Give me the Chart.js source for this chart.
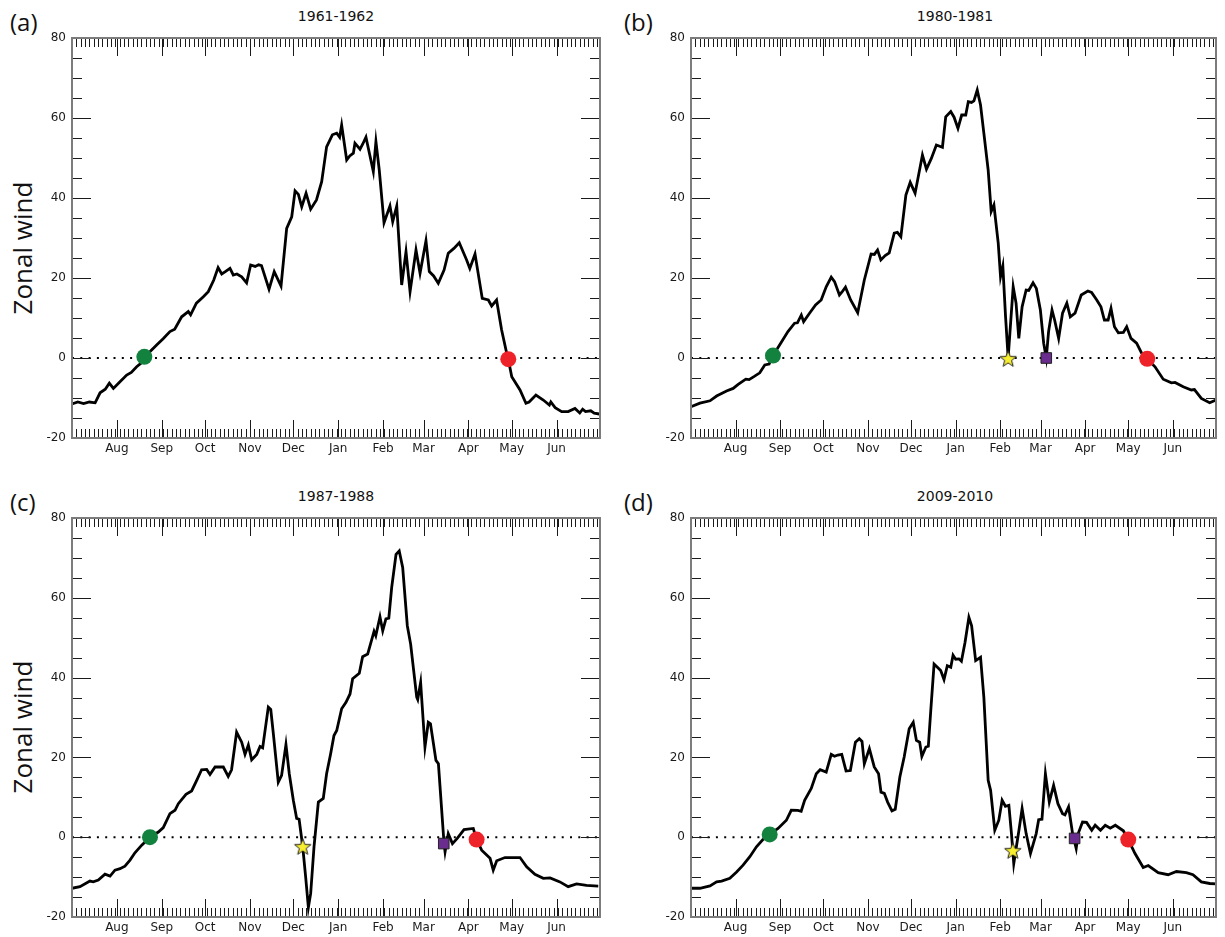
<!DOCTYPE html>
<html>
<head>
<meta charset="utf-8">
<script src="https://cdn.jsdelivr.net/npm/chart.js@4.4.0/dist/chart.umd.min.js"></script>
<style>
  body { margin: 0; background: #fff; width: 1225px; height: 937px; position: relative; overflow: hidden; }
  canvas { position: absolute; }
  .ttl { position: absolute; font: 14px "DejaVu Sans", sans-serif; color: #111; line-height: 18px; transform: translateX(-50%); white-space: nowrap; }
  .lbl { position: absolute; font: 24px "Open Sans", sans-serif; color: #111; line-height: 24px; }
  .ylab { position: absolute; font: 26px "Open Sans", sans-serif; color: #111; white-space: nowrap; transform: translate(-50%, -50%) rotate(-90deg); }
</style>
</head>
<body>
<div class="lbl" style="left:10px;top:10px">(a)</div>
<div class="lbl" style="left:624px;top:10px">(b)</div>
<div class="lbl" style="left:10px;top:490px">(c)</div>
<div class="lbl" style="left:624px;top:490px">(d)</div>
<div class="ttl" style="left:336px;top:7px">1961-1962</div>
<div class="ttl" style="left:955px;top:7px">1980-1981</div>
<div class="ttl" style="left:336px;top:487px">1987-1988</div>
<div class="ttl" style="left:955px;top:487px">2009-2010</div>
<div class="ylab" style="left:22px;top:248px">Zonal wind</div>
<div class="ylab" style="left:22px;top:727px">Zonal wind</div>

<canvas id="ca" width="612" height="470" style="left:0;top:0"></canvas>
<canvas id="cb" width="613" height="470" style="left:612px;top:0"></canvas>
<canvas id="cc" width="612" height="459" style="left:0;top:478px"></canvas>
<canvas id="cd" width="613" height="459" style="left:612px;top:478px"></canvas>

<script>
// x = days since 1 July, y = zonal wind
var monthNames = ['Aug', 'Sep', 'Oct', 'Nov', 'Dec', 'Jan', 'Feb', 'Mar', 'Apr', 'May', 'Jun'];
var monthStart = [31, 62, 92, 123, 153, 184, 215, 243, 274, 304, 335];

// 1961-1962
var daysA = [0, 4, 8, 12, 16, 19.4, 23, 25.8, 28.6, 33, 37.8, 41, 44.7, 48, 50, 54, 58.5, 63, 67.7, 71, 75.8, 80.4, 82, 86, 90.8, 94.2, 98, 101, 103.5, 106, 109.2, 111.5, 114, 117.3, 120.7, 123.5, 126.6, 129, 131, 136.2, 139.8, 144.5, 148.4, 151.9, 154.2, 156.5, 158.8, 161.8, 165, 169, 172.6, 176, 180, 183, 185, 186.4, 189.9, 192, 194.5, 195.6, 199.1, 201, 203.2, 206, 208.3, 210.1, 212.4, 215.7, 219.8, 221.7, 224.5, 227.9, 230.9, 233.7, 237.8, 240.6, 244.7, 247, 250, 253.2, 257.2, 260.1, 264, 267.7, 272.8, 275, 278.6, 283.6, 287.8, 290.1, 293.5, 297, 300.5, 301.6, 304, 309.7, 313.8, 316, 320.7, 325.8, 330, 331, 334, 338.5, 343, 347.7, 351, 353, 355, 358.6, 361, 364.5];
var windA = [-11.5, -11.0, -11.4, -11.0, -11.2, -8.7, -7.8, -6.3, -7.6, -6.0, -4.25, -3.6, -2.2, -1.2, 0.3, 1.6, 3.25, 4.8, 6.6, 7.2, 10.3, 11.6, 10.8, 13.7, 15.3, 16.6, 19.5, 22.6, 21.0, 21.6, 22.4, 20.75, 21.0, 20.3, 18.8, 23.25, 22.9, 23.3, 23.1, 17.2, 21.6, 18.0, 32.4, 35.3, 41.8, 40.9, 37.8, 41.2, 37.2, 39.5, 44.1, 52.8, 55.8, 56.2, 55.2, 58.25, 49.5, 50.5, 51.2, 53.7, 52.2, 53.5, 55.2, 50.5, 46.6, 54.1, 47.0, 33.8, 38.0, 34.1, 38.0, 18.25, 26.6, 16.6, 27.0, 21.2, 29.3, 21.6, 20.5, 18.7, 22.0, 26.2, 27.4, 28.8, 24.5, 22.4, 26.0, 14.9, 14.5, 13.0, 14.5, 7.0, 1.2, -0.3, -4.7, -8.0, -11.3, -11.0, -9.25, -10.5, -11.75, -11.0, -12.4, -13.4, -13.4, -12.6, -13.75, -12.8, -13.4, -13.2, -13.8, -14.0];

// 1980-1981
var daysB = [0, 6.2, 13.2, 17.8, 24.7, 29.3, 32.8, 38.1, 40.4, 44, 47.8, 51.3, 54.3, 57, 61.6, 67.4, 72, 74, 76.7, 78.3, 82.4, 86.6, 90.5, 94, 97.5, 99.8, 103.2, 105, 107.4, 111, 115.9, 120.5, 125.2, 127.5, 129.7, 132, 135, 137.8, 141.3, 143.5, 145.9, 149.4, 152.4, 155.8, 160.9, 163.7, 167.1, 170.6, 174.8, 177.1, 180.6, 182.9, 185.6, 188.2, 191, 192.8, 195, 196.7, 199, 201.3, 203.6, 206.6, 208.7, 210.6, 213.6, 215.2, 216.8, 218.7, 220.5, 222.2, 224, 226, 227.9, 230.2, 233, 234.8, 237.8, 240.1, 242.9, 245.2, 247, 248.6, 251, 252.8, 255.6, 258.3, 261.3, 263.7, 267, 271.3, 275.9, 278.5, 282.1, 285, 287.4, 290, 292, 294.4, 297.1, 300.6, 302.9, 305.9, 309.8, 313.3, 317.2, 322.6, 328.3, 334, 336.5, 342.2, 347.9, 350, 354.8, 360.6, 365];
var windB = [-12.2, -11.3, -10.7, -9.5, -8.25, -7.6, -6.6, -5.3, -5.4, -4.6, -3.7, -1.75, -1.5, 0.6, 3.25, 6.6, 8.7, 8.8, 10.75, 9.1, 11.2, 13.25, 14.5, 17.8, 20.2, 19.1, 15.75, 16.5, 17.7, 14.5, 11.3, 19.5, 26.0, 25.9, 27.0, 24.5, 25.6, 26.3, 31.2, 31.4, 30.3, 40.75, 43.9, 41.2, 50.75, 47.2, 49.9, 53.25, 52.7, 60.3, 61.6, 60.2, 57.4, 60.75, 60.75, 64.1, 63.9, 64.3, 67.0, 63.25, 56.2, 47.0, 36.6, 38.25, 28.7, 20.3, 23.0, 10.3, 0.0, 8.7, 17.8, 13.7, 4.9, 12.8, 17.0, 16.9, 18.8, 17.4, 12.0, 3.7, 0.0, 6.6, 12.0, 9.5, 4.9, 11.2, 13.7, 10.3, 11.2, 15.75, 16.75, 16.4, 14.5, 12.8, 9.5, 9.5, 12.4, 7.8, 6.3, 6.4, 7.8, 4.9, 3.7, 1.2, -0.25, -2.2, -5.3, -6.2, -6.1, -7.2, -8.0, -7.9, -10.1, -11.2, -10.5];

// 1987-1988
var daysC = [0, 5.5, 12.4, 14.7, 18.2, 22.8, 26.3, 29.7, 33.2, 36.6, 40.1, 43.5, 48.2, 53.9, 59.7, 63.1, 67.7, 71.2, 73.5, 78.8, 82.7, 86.2, 89.6, 93.1, 95.4, 98.9, 104.6, 108, 110.3, 113.8, 117.3, 119.6, 121.9, 124.2, 127.7, 130, 131.8, 135.7, 137.4, 139.2, 142.6, 144.9, 147.9, 150.2, 153, 155.3, 157, 159.5, 161.5, 163.4, 165, 167.3, 170.3, 173.7, 176, 178.8, 181.1, 183, 186.4, 189.4, 192.2, 194, 198.6, 200.9, 204.4, 208.8, 210, 212.9, 214.8, 217, 219, 221, 224, 226.2, 228.6, 231.8, 234.1, 238.3, 239, 241, 244, 246.3, 247.8, 251.6, 253.3, 257.2, 257.9, 260.1, 263, 266.3, 271, 277.4, 279.7, 283.2, 289, 291.2, 293.6, 299.3, 309.7, 314.3, 320, 325.8, 330.5, 337.3, 343, 348.8, 355.7, 363.8];
var windC = [-12.8, -12.4, -11.0, -11.2, -10.75, -9.25, -9.75, -8.25, -7.9, -7.25, -5.75, -3.9, -2.0, 0.0, 1.3, 2.4, 5.9, 6.75, 8.4, 10.75, 11.6, 14.25, 16.9, 17.0, 15.7, 17.6, 17.6, 15.25, 16.9, 26.3, 23.8, 20.75, 23.1, 19.4, 20.75, 22.75, 22.4, 32.6, 32.0, 25.9, 13.8, 15.5, 23.2, 15.9, 9.25, 4.7, 4.5, -2.4, -9.9, -17.6, -14.1, -2.4, 8.8, 9.7, 15.9, 20.9, 25.5, 26.75, 32.2, 33.8, 35.9, 39.7, 41.1, 45.25, 45.9, 51.6, 50.5, 55.25, 51.75, 54.7, 54.9, 62.6, 70.9, 71.75, 67.6, 53.0, 48.4, 35.1, 34.5, 38.8, 22.6, 28.8, 28.4, 19.25, 18.4, -1.6, -3.7, 0.9, -1.6, -0.3, 1.9, 2.2, -0.6, -3.25, -5.3, -8.25, -5.9, -5.1, -5.1, -7.4, -9.3, -10.3, -10.2, -11.2, -12.4, -11.7, -12.1, -12.25];

// 2009-2010
var daysD = [0, 6.2, 13.2, 17.8, 21.3, 27, 31.7, 36.2, 40.9, 45.5, 50, 54.7, 60.5, 66.3, 69.7, 74.3, 76.6, 79, 83.6, 87.1, 89.8, 94, 97.5, 99.8, 102.1, 104.8, 107.8, 110.8, 114.3, 117, 118.9, 120.5, 124, 127.4, 130.4, 132.1, 134.4, 136.7, 139.7, 142, 145.2, 148.2, 151.7, 154.5, 156.7, 159, 160.5, 163.3, 165, 166.7, 169, 171.3, 173.6, 175.9, 178.2, 180.6, 182.2, 184, 186.3, 188, 190.5, 193.2, 195.1, 197.9, 201.3, 203.6, 206.6, 208.3, 211.2, 214, 216.3, 218.6, 221, 222.8, 224.4, 228, 230.2, 233, 236, 240, 241.7, 244, 246.4, 249.1, 252.1, 255.1, 258.3, 260, 262.5, 265.3, 267.8, 269.2, 272.2, 275, 278.6, 281, 284.7, 288, 291.5, 295, 300.6, 304, 308.7, 314.4, 317.9, 324.8, 331.7, 337.5, 344.4, 349, 354.8, 360.6, 365];
var windD = [-12.8, -12.8, -12.2, -11.2, -11.0, -10.3, -8.7, -7.0, -4.9, -2.4, -0.6, 0.7, 2.2, 4.25, 6.75, 6.7, 6.5, 9.25, 12.2, 15.9, 16.9, 16.3, 20.75, 20.3, 20.6, 20.75, 16.6, 16.7, 23.8, 24.7, 24.0, 18.4, 22.2, 17.6, 15.9, 11.3, 11.0, 8.8, 6.6, 7.0, 15.1, 20.1, 27.2, 28.8, 24.25, 23.8, 20.25, 22.6, 22.8, 31.75, 43.4, 42.6, 41.75, 39.5, 43.0, 42.6, 45.6, 44.6, 44.7, 44.1, 48.8, 55.1, 53.0, 44.25, 45.1, 35.1, 14.25, 11.75, 1.75, 4.25, 9.25, 7.75, 8.0, 0.9, -6.6, 1.75, 7.2, 0.9, -4.1, 0.9, 4.4, 4.5, 15.9, 8.8, 13.0, 8.4, 5.9, 5.6, 7.6, 0.9, -2.8, 0.9, 3.8, 3.7, 1.75, 3.0, 1.75, 3.0, 2.25, 3.0, 1.6, -0.6, -4.1, -7.6, -7.1, -8.9, -9.4, -8.6, -8.9, -9.4, -11.2, -11.6, -11.7];

// event markers [day, wind]; null = not present
var onsetA = [50, 0.3],   starA = null,          squareA = null,         endA = [301.6, -0.3];
var onsetB = [57, 0.6],   starB = [220.5, -0.2], squareB = [247, 0],     endB = [317.2, -0.2];
var onsetC = [53.9, 0],   starC = [159.5, -2.4], squareC = [257, -1.6],  endC = [279.7, -0.6];
var onsetD = [54.7, 0.7], starD = [223.7, -3.4], squareD = [266.7, -0.3], endD = [304, -0.6];

// filled star for the pointStyle (Chart.js 'star' is only lines)
var starImg = document.createElement('canvas');
starImg.width = 20; starImg.height = 20;
(function() {
    var c = starImg.getContext('2d');
    c.beginPath();
    for (var i = 0; i < 10; i++) {
        var r = i % 2 ? 3.6 : 8.6;
        var a = -Math.PI / 2 + i * Math.PI / 5;
        c.lineTo(10 + r * Math.cos(a), 10.5 + r * Math.sin(a));
    }
    c.closePath();
    c.fillStyle = '#f7ee30';
    c.fill();
    c.lineWidth = 1;
    c.strokeStyle = '#222';
    c.stroke();
})();

// inward ticks on all four sides + grey frame
var frameTicks = {
    id: 'frameTicks',
    afterDraw: function(chart) {
        var ctx = chart.ctx, a = chart.chartArea, x = chart.scales.x, y = chart.scales.y;
        ctx.save();
        ctx.strokeStyle = '#1a1a1a';
        ctx.lineWidth = 1;
        ctx.beginPath();
        function vtick(px, len) {
            px = Math.round(px) + 0.5;
            ctx.moveTo(px, a.top); ctx.lineTo(px, a.top + len);
            ctx.moveTo(px, a.bottom); ctx.lineTo(px, a.bottom - len);
        }
        function htick(py, len) {
            py = Math.round(py) + 0.5;
            ctx.moveTo(a.left, py); ctx.lineTo(a.left + len, py);
            ctx.moveTo(a.right, py); ctx.lineTo(a.right - len, py);
        }
        for (var d = 0; d <= 365; d += 3) vtick(x.getPixelForValue(d), 9);
        monthStart.forEach(function(m) { vtick(x.getPixelForValue(m), 18); });
        for (var v = -20; v <= 80; v += 5) htick(y.getPixelForValue(v), v % 20 === 0 ? 19 : 10);
        ctx.stroke();
        ctx.strokeStyle = '#7c7c7c';
        ctx.lineWidth = 2;
        ctx.strokeRect(a.left, a.top, a.width, a.height);
        ctx.restore();
    }
};

function marker(p, style, radius, fill, border) {
    return {
        data: p ? [{x: p[0], y: p[1]}] : [],
        showLine: false,
        pointStyle: style,
        pointRadius: radius,
        backgroundColor: fill,
        borderColor: border,
        borderWidth: border ? 1 : 0,
        order: 0
    };
}

function makeChart(id, days, wind, onset, star, square, end, yWidth, padTop, padRight, xHeight) {
    var line = days.map(function(d, i) { return {x: d, y: wind[i]}; });
    new Chart(document.getElementById(id).getContext('2d'), {
        type: 'line',
        data: {
            datasets: [
                marker(onset, 'circle', 8, '#13823f', null),
                marker(end, 'circle', 8, '#ee2329', null),
                marker(star, starImg, 8, '#f7ee30', '#222'),
                marker(square, 'rect', 7.5, '#6b2c8f', '#222'),
                {
                    data: line,
                    borderColor: '#000',
                    borderWidth: 2.8,
                    pointRadius: 0,
                    tension: 0,
                    order: 1
                },
                {
                    data: [{x: 0, y: 0}, {x: 365, y: 0}],
                    borderColor: '#000',
                    borderWidth: 2,
                    borderDash: [2, 6.3],
                    pointRadius: 0,
                    order: 2
                }
            ]
        },
        options: {
            responsive: false,
            animation: false,
            devicePixelRatio: 1,
            layout: { padding: { left: 0, top: padTop, right: padRight, bottom: 0 } },
            plugins: { legend: { display: false }, tooltip: { enabled: false } },
            scales: {
                x: {
                    type: 'linear',
                    min: 0,
                    max: 365,
                    grid: { display: false, drawTicks: false },
                    border: { display: false },
                    afterBuildTicks: function(s) { s.ticks = monthStart.map(function(m) { return {value: m}; }); },
                    afterFit: function(s) { s.height = xHeight; },
                    ticks: {
                        autoSkip: false,
                        maxRotation: 0,
                        padding: 4,
                        color: '#1a1a1a',
                        font: { family: 'DejaVu Sans', size: 12 },
                        callback: function(v) { return monthNames[monthStart.indexOf(v)]; }
                    }
                },
                y: {
                    min: -20,
                    max: 80,
                    grid: { display: false, drawTicks: false },
                    border: { display: false },
                    afterFit: function(s) { s.width = yWidth; },
                    ticks: {
                        stepSize: 20,
                        padding: 6,
                        color: '#1a1a1a',
                        font: { family: 'DejaVu Sans', size: 12 }
                    }
                }
            }
        },
        plugins: [frameTicks]
    });
}

makeChart('ca', daysA, windA, onsetA, starA, squareA, endA, 72, 38, 12, 32);
makeChart('cb', daysB, windB, onsetB, starB, squareB, endB, 79, 38, 7, 32);
makeChart('cc', daysC, windC, onsetC, starC, squareC, endC, 72, 40, 12, 20);
makeChart('cd', daysD, windD, onsetD, starD, squareD, endD, 79, 40, 7, 20);
</script>
</body>
</html>
